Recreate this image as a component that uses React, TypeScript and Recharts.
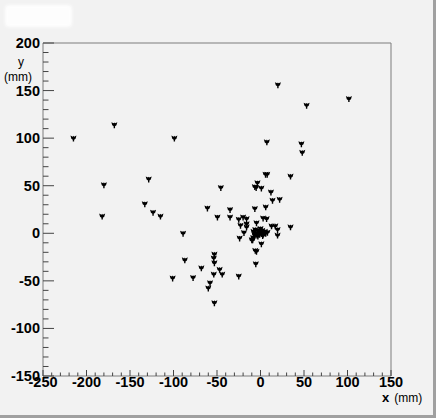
import { ReferenceArea, Scatter, ScatterChart, XAxis, YAxis } from "recharts";

// hit positions (mm)
const SPREAD_X = [
  -215, -168, -99, -180, -182, -128.5, -133, -123.5, -115, -89, -87, -101, -77.5, -68,
  -53, -53.7, -53, -53.7, -47, -44, -58, -60, -53, -25, -61, -49.5, -45.6, -35, -35,
  -25, -24, -23, -20, -16, -16, -16, -19, -10, -8.4, -6.5, -6.5, -3.5, 1, -5, -4.6,
  -6, -4.6, -5.4, 1, 5.8, 7.7, 7.3, 12, 13.8, 22, 6, 3, 7, 12.7, 17, 19.6, 19.6, 34.5,
  34.5, 20, 53, 101.6, 47, 48, -9,
];
const SPREAD_Y = [
  100, 114, 100, 51, 18, 57, 31, 22, 18, 0, -28, -47, -46.6, -36.4, -22, -26, -31, -43,
  -38, -43, -52, -57.5, -73, -45, 26.6, 17, 48, 25, 17, 14.7, -5, 8.4, 17, 15.4, 10,
  6.7, 0.7, -7, -4.5, 26, 49, 53, 47.6, 48, 11, -18, -19, -32, -11, 62, 62, 96, 43.4,
  34.7, 35.7, 27.7, 16, 15.4, 7.7, 7.7, 3.9, -2, 60, 6.7, 156, 134.5, 141.5, 94, 85, -7,
];
// dense core around the origin
const CORE_X = [-8, -6, -5, -4, -3, -2, -1, 0, 1, 2, 3, 4, 5, 6, -7, 0, -3, 8, -6.5, 2.5];
const CORE_Y = [2, 4, 0, -2, 3, 1, -1, 2, 0, 3, -1, 1, 2, 0, -1, 5, -3, 1, -2, -2.5];

const X_LABELS = [-250, -200, -150, -100, -50, 0, 50, 100, 150];
const Y_LABELS = [-150, -100, -50, 0, 50, 100, 150, 200];
const MINOR_STEP = 10;

const minorTicks = (labels: number[]) => {
  const out: number[] = [];
  const lo = labels[0];
  const hi = labels[labels.length - 1];
  for (let v = lo; v <= hi; v += MINOR_STEP) out.push(v);
  return out;
};

const hits = [
  ...SPREAD_X.map((x, i) => ({ x, y: SPREAD_Y[i] })),
  ...CORE_X.map((x, i) => ({ x, y: CORE_Y[i] })),
];

const FONT = '"Liberation Sans", Arial, Helvetica, sans-serif';
const TICK = "#444";
const FRAME = "#7c7c7c";

function XTick(props: any) {
  const { x, y, payload } = props;
  const major = payload.value % 50 === 0;
  return (
    <g>
      <line x1={x} x2={x} y1={y} y2={y - (major ? 6 : 3.5)} stroke={TICK} strokeWidth={1} />
      {major ? (
        <text
          x={x}
          y={y + 10.5}
          textAnchor="middle"
          style={{ fontFamily: FONT, fontWeight: 700, fontSize: 14.5, fill: "#000" }}
        >
          {payload.value}
        </text>
      ) : null}
    </g>
  );
}

function YTick(props: any) {
  const { x, y, payload } = props;
  const major = payload.value % 50 === 0;
  return (
    <g>
      <line x1={x} x2={x + (major ? 11 : 5.5)} y1={y} y2={y} stroke={TICK} strokeWidth={1} />
      {major ? (
        <text
          x={x - 3}
          y={y + 5}
          textAnchor="end"
          style={{ fontFamily: FONT, fontWeight: 700, fontSize: 14.5, fill: "#000" }}
        >
          {payload.value}
        </text>
      ) : null}
    </g>
  );
}

function Marker(props: any) {
  const { cx, cy } = props;
  if (cx == null || cy == null) return null;
  const d = `M${cx - 3},${cy - 2.6} L${cx - 0.7},${cy - 1.5} L${cx},${cy - 2.4} L${cx + 0.7},${cy - 1.5} L${cx + 3},${cy - 2.6} L${cx + 2.1},${cy + 0.5} L${cx + 0.7},${cy + 1.5} L${cx + 0.7},${cy + 3.4} L${cx - 0.7},${cy + 3.4} L${cx - 0.7},${cy + 1.5} L${cx - 2.1},${cy + 0.5} Z`;
  return <path d={d} fill="#000" />;
}

export default function App() {
  return (
    <div
      style={{
        position: "absolute",
        left: 0,
        top: 0,
        width: 436,
        height: 418,
        background: "#f2f2f2",
        overflow: "hidden",
      }}
    >
      <ScatterChart
        width={436}
        height={418}
        margin={{ top: 43, right: 45, bottom: 12, left: 0 }}
      >
        <ReferenceArea
          x1={-250}
          x2={150}
          y1={-150}
          y2={200}
          fill="none"
          stroke={FRAME}
          strokeWidth={1}
          ifOverflow="visible"
        />
        <XAxis
          type="number"
          dataKey="x"
          domain={[-250, 150]}
          ticks={minorTicks(X_LABELS)}
          interval={0}
          allowDataOverflow
          axisLine={false}
          tickLine={false}
          tickSize={0}
          tickMargin={0}
          height={30}
          tick={<XTick />}
        />
        <YAxis
          type="number"
          dataKey="y"
          domain={[-150, 200]}
          ticks={minorTicks(Y_LABELS)}
          interval={0}
          allowDataOverflow
          axisLine={false}
          tickLine={false}
          tickSize={0}
          tickMargin={0}
          width={43}
          tick={<YTick />}
        />
        <Scatter data={hits} shape={<Marker />} isAnimationActive={false} />
      </ScatterChart>

      {/* washed-out title box */}
      <div
        style={{
          position: "absolute",
          left: 5,
          top: 5,
          width: 67,
          height: 22,
          background: "#fff",
          borderRadius: 4,
          filter: "blur(1.5px)",
          opacity: 0.9,
        }}
      />

      <div
        style={{
          position: "absolute",
          left: 10,
          top: 56,
          fontFamily: FONT,
          fontSize: 12,
          lineHeight: "13px",
          textAlign: "center",
          width: 22,
          color: "#000",
        }}
      >
        y
      </div>
      <div
        style={{
          position: "absolute",
          left: 4,
          top: 71,
          fontFamily: FONT,
          fontSize: 12,
          lineHeight: "13px",
          color: "#000",
        }}
      >
        (mm)
      </div>
      <div
        style={{
          position: "absolute",
          left: 382,
          top: 391,
          fontFamily: FONT,
          fontSize: 13,
          lineHeight: "14px",
          color: "#000",
          whiteSpace: "nowrap",
        }}
      >
        <b>x</b>
        <span style={{ fontSize: 12, marginLeft: 5 }}>(mm)</span>
      </div>

      {/* canvas bevel */}
      <div style={{ position: "absolute", right: 0, top: 0, width: 3, height: 418, background: "#a0a0a0" }} />
      <div style={{ position: "absolute", left: 0, bottom: 0, width: 436, height: 3, background: "#a0a0a0" }} />
    </div>
  );
}
